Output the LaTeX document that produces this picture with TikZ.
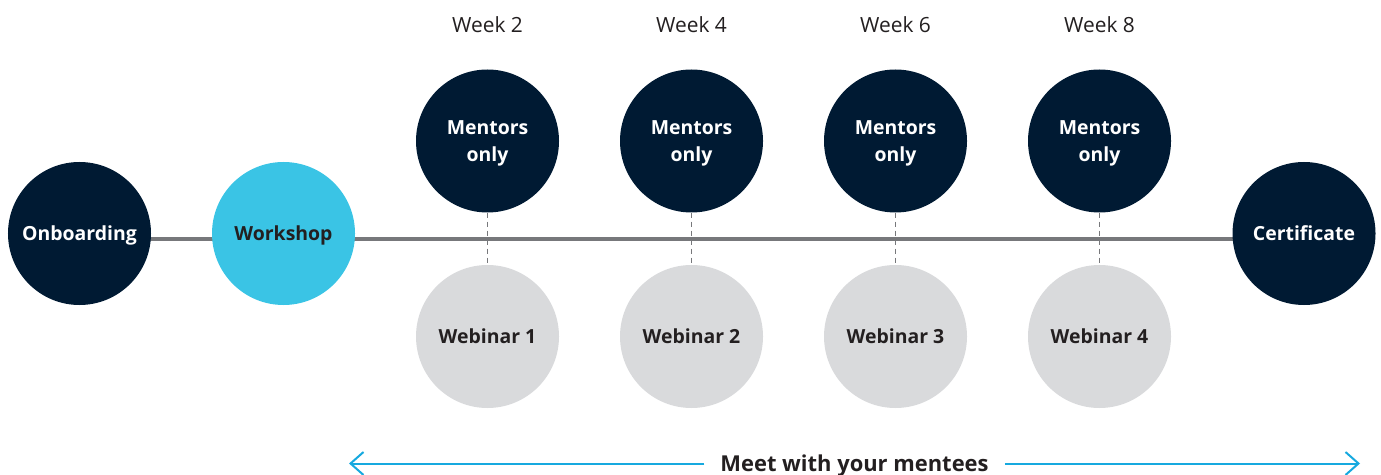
\documentclass[tikz,border=0pt]{standalone}
\usepackage{fontspec}
\setmainfont{Open Sans}
\usetikzlibrary{arrows.meta,backgrounds}

\definecolor{navy}{HTML}{001A33}
\definecolor{skyblue}{HTML}{3AC4E5}
\definecolor{softgray}{HTML}{D9DADC}
\definecolor{linegray}{HTML}{77787B}
\definecolor{arrowblue}{HTML}{16A9DF}
\definecolor{darktext}{HTML}{231F20}

\tikzset{
  milestone/.style={circle, minimum size=143bp, inner sep=0pt, align=center,
    font=\bfseries\fontsize{19.5}{26.5}\selectfont},
  oneline/.style={text height=14bp, text depth=0pt},
  weeklabel/.style={font=\fontsize{21}{24}\selectfont, text=darktext},
}

\begin{document}
\begin{tikzpicture}[x=1bp, y=-1bp, >={Straight Barb[length=13bp,width=23bp]}]
		\useasboundingbox (0,0) rectangle (1381,475);
		
		% Start and end of the programme
		\node [milestone, oneline, fill=navy, text=white] (onboarding) at (79.5,233.5) {Onboarding};
		\node [milestone, oneline, fill=skyblue, text=darktext] (workshop) at (283.5,233.5) {Workshop};
		\node [milestone, oneline, fill=navy, text=white] (certificate) at (1304,233.5) {Certificate};
		
		% Mentor sessions, webinars and weeks
		\foreach \w [count=\i] in {2,4,6,8} {
		\node [milestone, text depth=0pt, fill=navy, text=white] (mentors-\i) at (283.5+204*\i,141) {Mentors\\only};
		\node [milestone, oneline, fill=softgray, text=darktext] (webinar-\i) at (283.5+204*\i,336.5) {Webinar \i};
		\node [weeklabel] (week-\i) at (283.5+204*\i,25) {Week \w};
		}
		
		% Timeline behind the circles
		\begin{scope}[on background layer]
		\foreach \i in {1,2,3,4}
		\draw [linegray, line width=1bp, dash pattern=on 5bp off 4bp] (mentors-\i.south) -- (webinar-\i.north);
		\draw [linegray, line width=4.5bp] ([yshift=-5.5bp]onboarding.center) -- ([yshift=-5.5bp]certificate.center);
		\end{scope}
		
		% Meeting period
		\node [font=\bfseries\fontsize{22}{26}\selectfont, text=darktext, text height=15.5bp, text depth=0pt, inner xsep=16bp] (meet) at (854.5,463.5) {Meet with your mentees};
		\coordinate (meet-start) at (349,463.5);
		\coordinate (meet-end) at (1360,463.5);
		\draw [->, arrowblue, line width=2bp] (meet.west) -- (meet-start);
		\draw [->, arrowblue, line width=2bp] (meet.east) -- (meet-end);
		
	\end{tikzpicture}
\end{document}
